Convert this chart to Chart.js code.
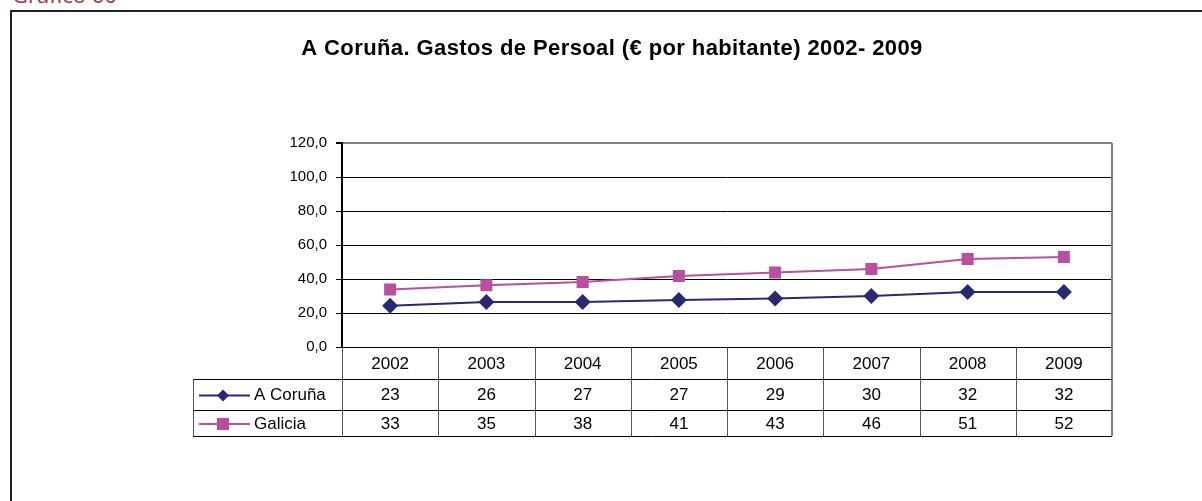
<!DOCTYPE html>
<html>
<head>
<meta charset="utf-8">
<script src="https://cdn.jsdelivr.net/npm/chart.js@4/dist/chart.umd.min.js"></script>
<style>
  html, body { margin: 0; padding: 0; background: #fff; overflow: hidden; }
  #wrap { position: relative; width: 1202px; height: 501px; }
  #caption { position: absolute; left: 12px; top: -17px; font: 22px "Open Sans", sans-serif; color: #a8323a; line-height: 22px; }
  #frame { position: absolute; left: 10px; top: 10px; width: 1200px; height: 500px; border-left: 2px solid #222; border-top: 2px solid #222; }
  canvas { position: absolute; left: 0; top: 0; }
</style>
</head>
<body>
<div id="wrap">
  <div id="caption">Gráfico 60</div>
  <div id="frame"></div>
  <canvas id="chart" width="1202" height="501"></canvas>
</div>
<script>
// data
const years = ['2002', '2003', '2004', '2005', '2006', '2007', '2008', '2009'];
const coruna = [24.2, 26.5, 26.5, 27.7, 28.6, 30.0, 32.3, 32.3];
const galicia = [33.8, 36.3, 38.3, 41.7, 43.8, 45.9, 51.7, 52.9];
// numbers printed in the data table
const tableCoruna = ['23', '26', '27', '27', '29', '30', '32', '32'];
const tableGalicia = ['33', '35', '38', '41', '43', '46', '51', '52'];
const yTicks = [0, 20, 40, 60, 80, 100, 120];

const title = 'A Coruña. Gastos de Persoal (€ por habitante) 2002- 2009';
const navy = '#29296f';
const pink = '#b8509f';
const font = '"Liberation Sans", Arial, sans-serif';

// draws the title, the right border and the data table under the plot
const tablePlugin = {
  id: 'dataTable',
  afterDraw(chart) {
    const ctx = chart.ctx;
    const x = chart.scales.x;
    const a = chart.chartArea;
    const half = (x.getPixelForValue(1) - x.getPixelForValue(0)) / 2;
    const rows = [a.bottom, a.bottom + 32, a.bottom + 63, a.bottom + 89];
    const legLeft = 193;

    ctx.save();
    ctx.fillStyle = '#000';
    ctx.font = 'bold 22px ' + font;
    ctx.letterSpacing = '0.4px';
    ctx.textAlign = 'center';
    ctx.textBaseline = 'middle';
    ctx.fillText(title, 612, 49);
    ctx.letterSpacing = '0px';

    // right border of plot and table
    ctx.strokeStyle = '#808080';
    ctx.lineWidth = 2;
    ctx.beginPath();
    ctx.moveTo(a.right, a.top);
    ctx.lineTo(a.right, rows[3]);
    ctx.stroke();

    // horizontal lines
    ctx.strokeStyle = '#000';
    ctx.lineWidth = 1;
    ctx.beginPath();
    ctx.moveTo(legLeft, rows[1] + 0.5); ctx.lineTo(a.right, rows[1] + 0.5);
    ctx.moveTo(legLeft, rows[2] + 0.5); ctx.lineTo(a.right, rows[2] + 0.5);
    ctx.moveTo(legLeft, rows[3] + 0.5); ctx.lineTo(a.right, rows[3] + 0.5);
    ctx.stroke();

    // vertical lines
    ctx.strokeStyle = '#555';
    ctx.beginPath();
    ctx.moveTo(legLeft + 0.5, rows[1]); ctx.lineTo(legLeft + 0.5, rows[3]);
    ctx.moveTo(a.left + 0.5, rows[0]); ctx.lineTo(a.left + 0.5, rows[3]);
    for (let i = 1; i < years.length; i++) {
      const bx = Math.round(x.getPixelForValue(i) - half) + 0.5;
      ctx.moveTo(bx, rows[0]); ctx.lineTo(bx, rows[3]);
    }
    ctx.stroke();

    // cell text
    ctx.font = '17px ' + font;
    ctx.fillStyle = '#000';
    ctx.textAlign = 'center';
    years.forEach((yr, i) => {
      const cx = x.getPixelForValue(i);
      ctx.fillText(yr, cx, (rows[0] + rows[1]) / 2 + 1);
      ctx.fillText(tableCoruna[i], cx, (rows[1] + rows[2]) / 2 + 1);
      ctx.fillText(tableGalicia[i], cx, (rows[2] + rows[3]) / 2 + 1);
    });

    // legend keys
    const y1 = (rows[1] + rows[2]) / 2 + 1;
    const y2 = (rows[2] + rows[3]) / 2 + 1;
    ctx.lineWidth = 2;
    ctx.strokeStyle = navy;
    ctx.beginPath(); ctx.moveTo(199, y1); ctx.lineTo(250, y1); ctx.stroke();
    ctx.fillStyle = navy;
    ctx.beginPath();
    ctx.moveTo(223, y1 - 6); ctx.lineTo(229, y1); ctx.lineTo(223, y1 + 6); ctx.lineTo(217, y1);
    ctx.closePath(); ctx.fill();
    ctx.strokeStyle = pink;
    ctx.beginPath(); ctx.moveTo(199, y2); ctx.lineTo(250, y2); ctx.stroke();
    ctx.fillStyle = pink;
    ctx.fillRect(217, y2 - 6, 12, 12);

    ctx.fillStyle = '#000';
    ctx.textAlign = 'left';
    ctx.fillText('A Coruña', 254, y1);
    ctx.fillText('Galicia', 254, y2);
    ctx.restore();
  }
};

new Chart(document.getElementById('chart'), {
  type: 'line',
  data: {
    labels: years,
    datasets: [
      {
        label: 'A Coruña',
        data: coruna,
        borderColor: navy,
        backgroundColor: navy,
        borderWidth: 2,
        pointStyle: 'rectRot',
        pointRadius: 8,
        pointBorderWidth: 0,
        tension: 0
      },
      {
        label: 'Galicia',
        data: galicia,
        borderColor: pink,
        backgroundColor: pink,
        borderWidth: 2,
        pointStyle: 'rect',
        pointRadius: 8.5,
        pointBorderWidth: 0,
        tension: 0
      }
    ]
  },
  options: {
    responsive: false,
    animation: false,
    layout: { padding: { left: 0, top: 143, right: 90, bottom: 154 } },
    plugins: { legend: { display: false }, title: { display: false }, tooltip: { enabled: false } },
    scales: {
      x: { type: 'category', offset: true, display: false },
      y: {
        min: 0,
        max: 120,
        afterFit(scale) { scale.width = 342; },
        afterBuildTicks(scale) { scale.ticks = yTicks.map(v => ({ value: v })); },
        ticks: {
          color: '#000',
          padding: 9,
          font: { family: font, size: 15 },
          callback: v => v.toFixed(1).replace('.', ',')
        },
        grid: {
          color: ctx => (ctx.tick && ctx.tick.value === 120 ? '#808080' : '#000'),
          lineWidth: ctx => (ctx.tick && ctx.tick.value === 120 ? 2 : 1),
          tickLength: 6,
          tickColor: '#000'
        },
        border: { color: '#000', width: 2 }
      }
    }
  },
  plugins: [tablePlugin]
});
</script>
</body>
</html>
